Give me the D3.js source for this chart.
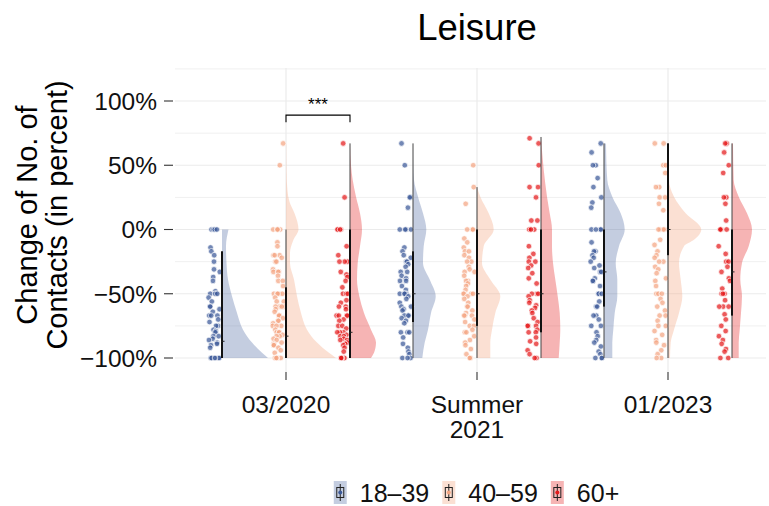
<!DOCTYPE html>
<html>
<head>
<meta charset="utf-8">
<script src="https://cdn.jsdelivr.net/npm/d3@7"></script>
<style>
  html, body { margin: 0; padding: 0; background: #fff; }
  svg { display: block; font-family: "Liberation Sans", Arial, Helvetica, sans-serif; }
</style>
</head>
<body>
<svg id="chart" width="769" height="506"></svg>
<script>
// Survey waves and age groups
const waves = ["03/2020", "Summer 2021", "01/2023"];
const waveLabels = [["03/2020"], ["Summer", "2021"], ["01/2023"]];
const ages = ["18–39", "40–59", "60+"];
const ageColors = ["#3b5998", "#f4a582", "#e41a1c"];
const ageAlpha = [0.3, 0.35, 0.33];

// Y axis breaks (percent change)
const yTicks = [-100, -50, 0, 50, 100];
const yMinor = [-75, -25, 25, 75, 125];

// Individual responses: change in number of leisure contacts (%)
const pts_2020_young = [0,0,0,0,-14,-17,-20,-25,-31,-33,-37,-40,-48,-50,-50,-50,-50,-53,-56,-60,-60,-62,-64,-67,-67,-67,-70,-72,-75,-75,-78,-79,-80,-83,-83,-85,-86,-88,-89,-90,-92,-100,-100,-100,-100,-100,-100,-100];
const pts_2020_mid = [67,50,0,0,0,0,0,-10,-13,-20,-20,-20,-22,-25,-25,-31,-33,-33,-33,-36,-40,-40,-44,-50,-50,-50,-50,-50,-53,-56,-56,-60,-60,-60,-60,-62,-64,-67,-67,-67,-67,-69,-71,-71,-73,-75,-75,-75,-78,-80,-80,-80,-82,-83,-83,-85,-86,-88,-89,-90,-90,-92,-94,-96,-100,-100,-100,-100,-100,-100,-100];
const pts_2020_old = [67,25,0,0,0,0,-13,-20,-25,-25,-25,-33,-35,-37,-40,-45,-50,-50,-50,-55,-57,-60,-60,-62,-67,-67,-67,-67,-70,-71,-75,-75,-77,-80,-80,-80,-82,-83,-83,-85,-86,-86,-88,-89,-90,-92,-95,-100,-100,-100,-100,-100,-100];
const pts_2021_young = [67,50,25,25,17,0,0,0,0,-14,-17,-20,-22,-25,-25,-27,-29,-33,-33,-36,-38,-40,-40,-44,-47,-50,-50,-50,-50,-52,-54,-57,-60,-60,-62,-63,-67,-67,-67,-69,-71,-73,-80,-80,-80,-84,-89,-92,-95,-97,-100,-100,-100];
const pts_2021_mid = [50,33,20,0,0,0,-7,-10,-14,-17,-17,-20,-22,-25,-25,-29,-31,-33,-33,-36,-40,-40,-42,-44,-47,-50,-50,-50,-50,-52,-54,-57,-60,-60,-63,-65,-67,-67,-67,-70,-72,-75,-75,-78,-80,-80,-83,-86,-88,-90,-93,-97,-100,-100,-100];
const pts_2021_old = [71,67,50,33,33,25,7,7,0,0,0,0,-13,-19,-22,-25,-25,-28,-30,-34,-38,-42,-50,-50,-50,-52,-55,-57,-59,-61,-63,-65,-69,-72,-75,-75,-75,-78,-80,-80,-84,-87,-89,-94,-97,-100,-100];
const pts_2023_young = [67,60,50,50,40,33,25,21,17,0,0,0,0,-10,-17,-17,-20,-22,-25,-28,-30,-33,-33,-38,-40,-40,-44,-50,-50,-50,-56,-60,-60,-67,-67,-70,-75,-75,-80,-83,-86,-88,-91,-95,-97,-100,-100,-100];
const pts_2023_mid = [67,67,50,50,44,33,33,25,25,20,15,0,0,0,0,-8,-12,-17,-20,-22,-25,-25,-29,-31,-34,-38,-40,-44,-50,-50,-50,-54,-57,-60,-63,-67,-67,-71,-75,-75,-79,-82,-86,-88,-90,-94,-97,-100,-100];
const pts_2023_old = [67,67,60,50,44,25,25,20,7,0,0,0,0,-13,-19,-25,-25,-29,-33,-38,-40,-46,-50,-50,-50,-55,-60,-60,-60,-66,-70,-75,-79,-83,-86,-89,-93,-95,-100,-100];

const points = [
  [pts_2020_young, pts_2020_mid, pts_2020_old],
  [pts_2021_young, pts_2021_mid, pts_2021_old],
  [pts_2023_young, pts_2023_mid, pts_2023_old]
];

// Box statistics: [lower whisker, Q1, median, Q3, upper whisker]
const box_2020 = [[-100,-100,-87,-17,-17], [-100,-100,-83,-45,0], [-100,-100,-80,0,67]];
const box_2021 = [[-100,-72,-50,-17,67], [-100,-75,-50,0,33], [-100,-80,-50,0,72]];
const box_2023 = [[-100,-60,-33,0,67], [-100,-20,0,67,67], [-100,-67,-33,0,67]];
const boxes = [box_2020, box_2021, box_2023];

// Kernel density profiles: [value, relative density]
const dens_2020 = [
  [[0,.13],[-13,.08],[-26,.09],[-39,.12],[-52,.2],[-65,.3],[-78,.42],[-88,.6],[-96,.8],[-100,.92]],
  [[67,.004],[45,.01],[30,.03],[21.6,.07],[12.6,.17],[0,.25],[-8,.15],[-18,.08],[-26,.08],[-39,.16],[-52,.22],[-65,.3],[-78,.42],[-88,.62],[-96,.86],[-100,1.0]],
  [[67,0],[50,.02],[38.5,.054],[25.5,.12],[12.6,.2],[0,.24],[-13,.2],[-26,.154],[-39,.14],[-52,.186],[-65,.28],[-78,.42],[-88,.52],[-96,.48],[-100,.42]]
];
const dens_2021 = [
  [[67,0],[50,.005],[38.5,.02],[25.5,.1],[12.6,.2],[0,.266],[-13,.214],[-26,.2],[-39,.334],[-52,.454],[-65,.36],[-78,.3],[-88,.234],[-100,.186]],
  [[33,0],[25.5,.066],[12.6,.234],[0,.334],[-13,.134],[-26,.1],[-39,.266],[-52,.466],[-65,.366],[-78,.3],[-88,.266],[-100,.266]],
  [[72,0],[46.7,.054],[25.5,.12],[12.6,.174],[0,.22],[-13,.22],[-26,.24],[-39,.286],[-52,.334],[-65,.374],[-78,.386],[-88,.374],[-100,.354]]
];
const dens_2023 = [
  [[67,.04],[38.5,.066],[25.5,.166],[12.6,.334],[0,.414],[-13,.3],[-26,.234],[-39,.266],[-52,.266],[-65,.214],[-78,.186],[-88,.166],[-100,.166]],
  [[67,.02],[38.5,.02],[25.5,.12],[12.6,.354],[0,.666],[-8,.52],[-13,.32],[-26,.22],[-39,.254],[-52,.286],[-65,.22],[-78,.12],[-88,.054],[-100,.04]],
  [[67,.02],[38.5,.034],[25.5,.134],[12.6,.3],[0,.4],[-13,.334],[-26,.2],[-39,.166],[-52,.2],[-65,.18],[-78,.154],[-88,.134],[-100,.134]]
];
const densities = [dens_2020, dens_2021, dens_2023];

// Significance bracket: wave index, age indices, label, height (%)
const signif = [{ wave: 0, from: 1, to: 2, label: "***", level: 89 }];

const svg = d3.select("#chart");
const panel = { left: 175, right: 766, top: 68, bottom: 372 };

const x = d3.scalePoint().domain(waves).range([286, 668]);
const dodge = d3.scalePoint().domain(ages).range([-64, 64]);
const y = d3.scaleLinear().domain([-100, 100]).range([358, 101]);
const w = d3.scaleLinear().domain([0, 1]).range([0, 50]);

// Grid
const grid = svg.append("g");
grid.selectAll("line.minor").data(yMinor).join("line")
  .attr("x1", panel.left).attr("x2", panel.right)
  .attr("y1", d => y(d)).attr("y2", d => y(d))
  .attr("stroke", "#f0f0f0").attr("stroke-width", 1);
grid.selectAll("line.major").data(yTicks).join("line")
  .attr("x1", panel.left).attr("x2", panel.right)
  .attr("y1", d => y(d)).attr("y2", d => y(d))
  .attr("stroke", "#ebebeb").attr("stroke-width", 1.2);
grid.selectAll("line.vx").data(waves).join("line")
  .attr("x1", d => x(d)).attr("x2", d => x(d))
  .attr("y1", panel.top).attr("y2", panel.bottom)
  .attr("stroke", "#ebebeb").attr("stroke-width", 1.2);

// deterministic hash used to spread overlapping responses sideways
const hash = (i, seed) => {
  const s = Math.sin((i + 1) * 12.9898 + seed * 78.233) * 43758.5453;
  return s - Math.floor(s);
};

const layers = { violin: svg.append("g"), pts: svg.append("g"), box: svg.append("g") };

waves.forEach((wv, wi) => {
  ages.forEach((ag, ai) => {
    const bx = x(wv) + dodge(ag);
    const col = ageColors[ai];

    // half violin to the right of the box
    const area = d3.area()
      .curve(d3.curveMonotoneY)
      .y(d => y(d[0]))
      .x0(bx)
      .x1(d => bx + w(d[1]));
    layers.violin.append("path")
      .datum(densities[wi][ai])
      .attr("d", area)
      .attr("fill", col)
      .attr("fill-opacity", ageAlpha[ai]);

    // jittered raw responses to the left
    const seed = wi * 3 + ai + 1;
    layers.pts.selectAll(null).data(points[wi][ai]).join("circle")
      .attr("cx", (d, i) => bx - 2 - hash(i, seed) * 11.5)
      .attr("cy", d => y(d))
      .attr("r", 2.8)
      .attr("fill", col)
      .attr("fill-opacity", 0.72)
      .attr("stroke", "#fff")
      .attr("stroke-width", 0.7);

    // narrow box plot
    const [wl, q1, med, q3, wh] = boxes[wi][ai];
    const g = layers.box.append("g");
    g.append("line")
      .attr("x1", bx).attr("x2", bx)
      .attr("y1", y(wh)).attr("y2", y(wl))
      .attr("stroke", "#444").attr("stroke-width", 1);
    g.append("rect")
      .attr("x", bx - 1).attr("width", 2)
      .attr("y", y(q3)).attr("height", Math.max(0.5, y(q1) - y(q3)))
      .attr("fill", "#111");
    g.append("line")
      .attr("x1", bx - 1).attr("x2", bx + 2.5)
      .attr("y1", y(med)).attr("y2", y(med))
      .attr("stroke", "#222").attr("stroke-width", 1);
  });
});

// Significance bracket
signif.forEach(s => {
  const x1 = x(waves[s.wave]) + dodge(ages[s.from]);
  const x2 = x(waves[s.wave]) + dodge(ages[s.to]);
  const yy = y(s.level);
  const tip = y(s.level - 5.5);
  svg.append("path")
    .attr("d", `M${x1},${tip}V${yy}H${x2}V${tip}`)
    .attr("fill", "none").attr("stroke", "#000").attr("stroke-width", 1.1);
  svg.append("text")
    .attr("x", (x1 + x2) / 2).attr("y", yy - 5)
    .attr("text-anchor", "middle")
    .attr("font-size", 17).text(s.label);
});

// Y axis
const yAxis = svg.append("g");
yAxis.selectAll("line").data(yTicks).join("line")
  .attr("x1", 164).attr("x2", 173)
  .attr("y1", d => y(d)).attr("y2", d => y(d))
  .attr("stroke", "#333").attr("stroke-width", 1.1);
yAxis.selectAll("text").data(yTicks).join("text")
  .attr("x", 157).attr("y", d => y(d))
  .attr("dy", "0.36em")
  .attr("text-anchor", "end")
  .attr("font-size", 24.5)
  .attr("fill", "#111")
  .text(d => (d < 0 ? "\u2212" : "") + Math.abs(d) + "%");

// X axis
const xAxis = svg.append("g");
xAxis.selectAll("line").data(waves).join("line")
  .attr("x1", d => x(d)).attr("x2", d => x(d))
  .attr("y1", panel.bottom).attr("y2", panel.bottom + 8)
  .attr("stroke", "#333").attr("stroke-width", 1.1);
waves.forEach((wv, i) => {
  const t = xAxis.append("text")
    .attr("x", x(wv)).attr("y", 413)
    .attr("text-anchor", "middle")
    .attr("font-size", 24.5)
    .attr("fill", "#111");
  waveLabels[i].forEach((ln, k) => {
    t.append("tspan").attr("x", x(wv)).attr("dy", k === 0 ? 0 : 25).text(ln);
  });
});

// Y title
const yTitle = svg.append("text")
  .attr("transform", `translate(0,215) rotate(-90)`)
  .attr("text-anchor", "middle")
  .attr("font-size", 29)
  .attr("fill", "#000");
yTitle.append("tspan").attr("x", 0).attr("y", 37).text("Change of No. of");
yTitle.append("tspan").attr("x", 0).attr("y", 67).text("Contacts (in percent)");

// Title
svg.append("text")
  .attr("x", 477).attr("y", 40)
  .attr("text-anchor", "middle")
  .attr("font-size", 36.5)
  .attr("fill", "#000")
  .text("Leisure");

// Legend
const legend = svg.append("g");
const items = [];
ages.forEach((ag, i) => {
  const it = legend.append("g");
  it.append("rect")
    .attr("x", 0).attr("y", 481).attr("width", 13).attr("height", 23)
    .attr("fill", ageColors[i]).attr("fill-opacity", ageAlpha[i]);
  it.append("line").attr("x1", 6.5).attr("x2", 6.5).attr("y1", 484).attr("y2", 501)
    .attr("stroke", "#222").attr("stroke-width", 1);
  it.append("rect").attr("x", 3).attr("y", 487.5).attr("width", 7).attr("height", 10)
    .attr("fill", "none").attr("stroke", "#222").attr("stroke-width", 1);
  it.append("circle").attr("cx", 6.5).attr("cy", 492.5).attr("r", 2)
    .attr("fill", ageColors[i]);
  const t = it.append("text")
    .attr("x", 26).attr("y", 492.5).attr("dy", "0.36em")
    .attr("font-size", 25).attr("fill", "#111").text(ag);
  items.push({ it, wdt: 26 + t.node().getComputedTextLength() });
});
const gap = 13;
const total = d3.sum(items, d => d.wdt) + gap * (items.length - 1);
let lx = 476.5 - total / 2;
items.forEach(d => { d.it.attr("transform", `translate(${lx},0)`); lx += d.wdt + gap; });
</script>
</body>
</html>
